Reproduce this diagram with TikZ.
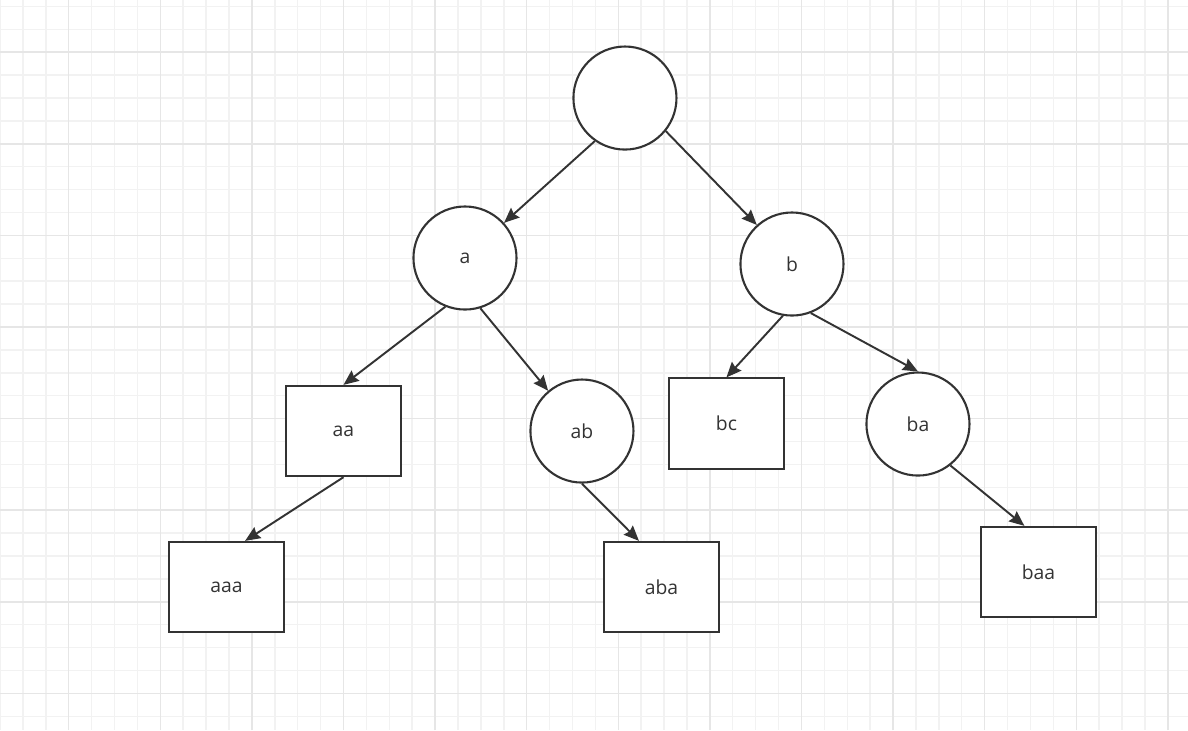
\documentclass[tikz,border=0pt]{standalone}
\usepackage{fontspec}
\setmainfont{Open Sans}
\usepackage{tikz}
\usetikzlibrary{arrows.meta}
\definecolor{ink}{HTML}{333333}
\definecolor{minor}{HTML}{F2F2F2}
\definecolor{major}{HTML}{E6E6E6}

\begin{document}
\begin{tikzpicture}[circ/.style={circle,draw=ink,line width=1.3pt,fill=white,minimum size=2.25cm,inner sep=0pt,text=ink},
                    rect/.style={rectangle,draw=ink,line width=1.3pt,fill=white,minimum width=2.5cm,minimum height=1.97cm,inner sep=0pt,text=ink},
                    arr/.style={-{Stealth[length=0.33cm,width=0.28cm,inset=0.04cm]},ink,line width=1.2pt},
                    font=\fontsize{12}{14}\selectfont]
                 \useasboundingbox (0,0) rectangle (25.94,15.94);
                 \fill[white] (0,0) rectangle (25.94,15.94);
                 % background grid
                 \foreach \x in {0,0.5,...,25.5} \draw[minor,line width=0.9pt] (\x,0)--(\x,15.94);
                 \foreach \y in {0.3,0.8,...,15.8} \draw[minor,line width=0.9pt] (0,\y)--(25.94,\y);
                 \foreach \x in {1.5,3.5,...,25.5} \draw[major,line width=0.9pt] (\x,0)--(\x,15.94);
                 \foreach \y in {0.8,2.8,...,14.8} \draw[major,line width=0.9pt] (0,\y)--(25.94,\y);
                 \node[circ](r)at(13.646,13.799){};
                 \node[circ](a)at(10.153,10.306){a};
                 \node[circ](b)at(17.293,10.175){b};
                 \node[rect](aa)at(7.500,6.528){aa};
                 \node[circ](ab)at(12.707,6.528){ab};
                 \node[rect](bc)at(15.862,6.692){bc};
                 \node[circ](ba)at(20.044,6.681){ba};
                 \node[rect](aaa)at(4.945,3.122){aaa};
                 \node[rect](aba)at(14.443,3.122){aba};
                 \node[rect](baa)at(22.675,3.450){baa};
                 \draw[arr](r.235)--(a.42);
                 \draw[arr](r.321)--(b.132);
                 \draw[arr](a.248)--(aa.north);
                 \draw[arr](a.287)--(ab.130);
                 \draw[arr](b.260)--(bc.north);
                 \draw[arr](b.291)--(ba.north);
                 \draw[arr](aa.south)--(aaa.68);
                 \draw[arr](ab.south)--(aba.116);
                 \draw[arr](ba.308)--(baa.107);
               \end{tikzpicture}
\end{document}
